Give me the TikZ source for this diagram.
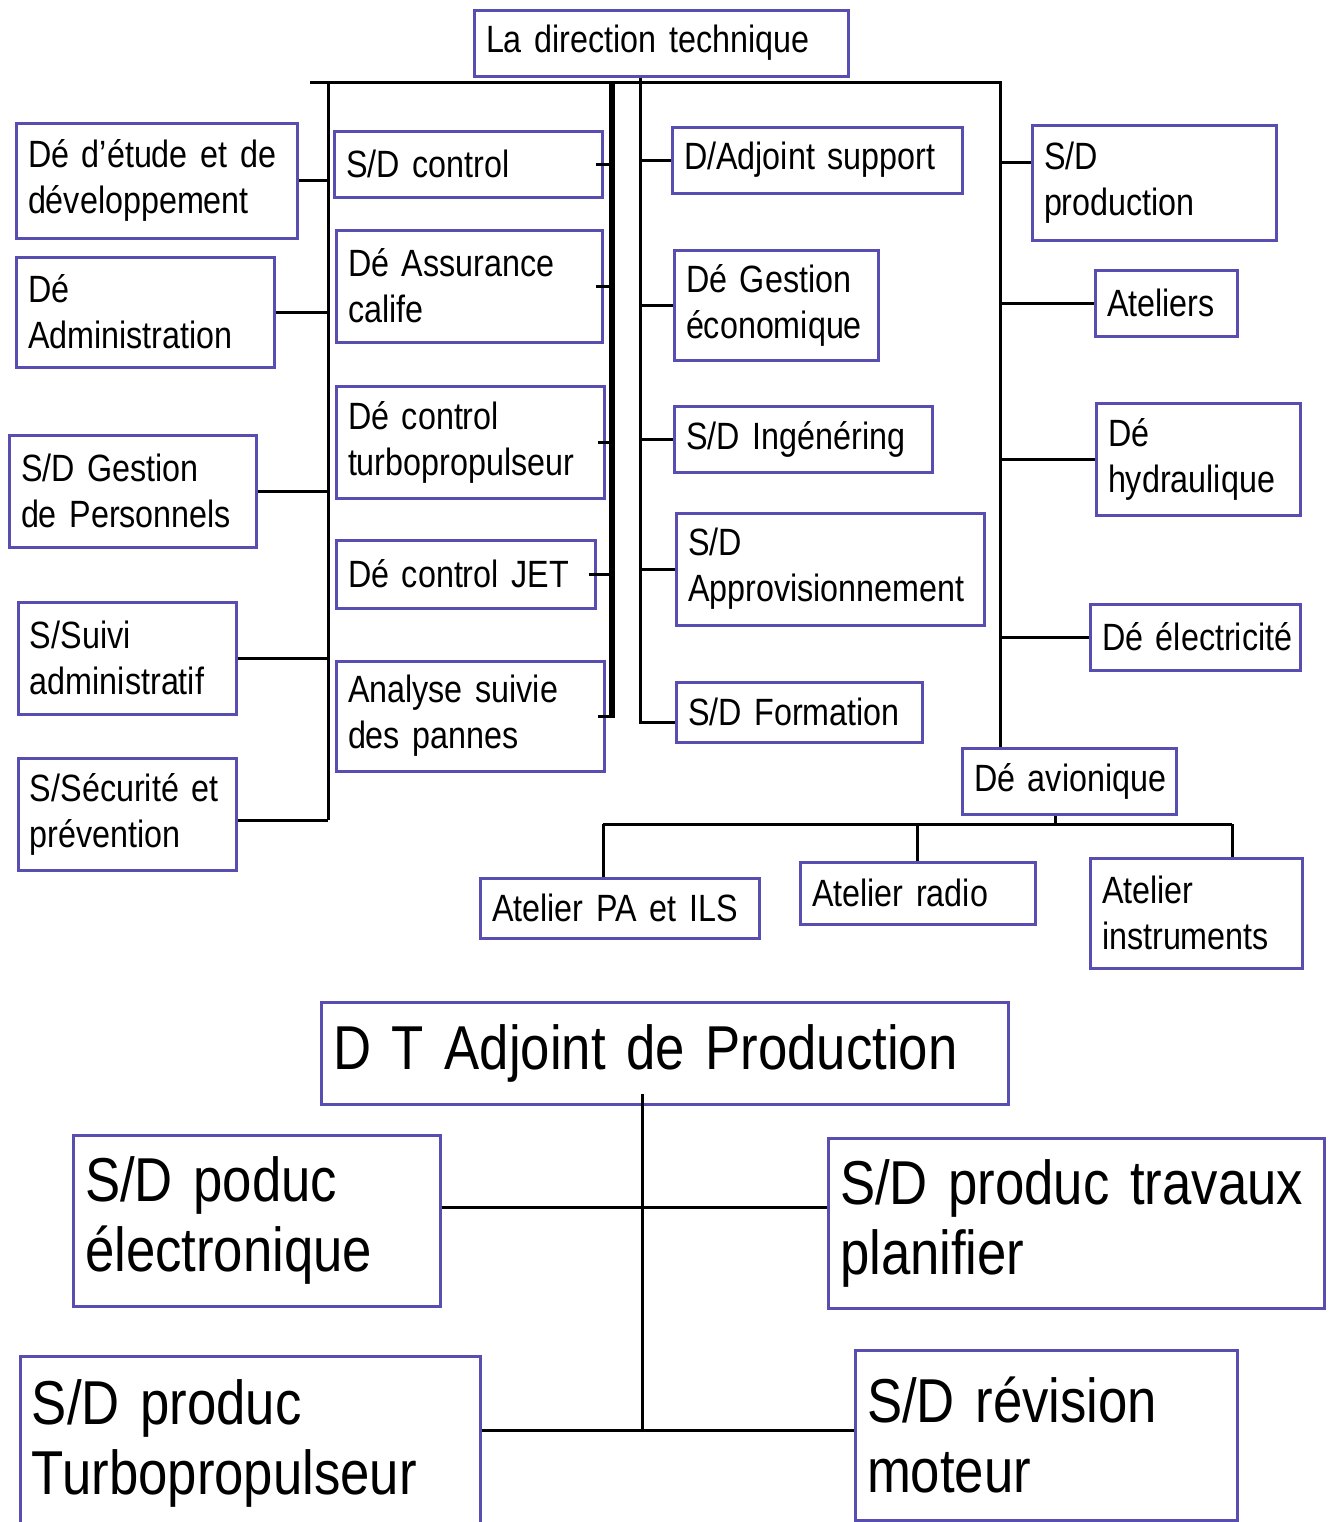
\documentclass[tikz,border=0pt]{standalone}
\usepackage{fontspec}
\setmainfont{Liberation Sans}[FakeStretch=0.85,WordSpace=0.7]
\usetikzlibrary{calc}
\definecolor{bxc}{RGB}{88,78,178}
\newcommand\smallf{\fontsize{19}{23}\selectfont\hyphenpenalty=10000\exhyphenpenalty=10000}
\newcommand\bigf{\fontsize{31}{35}\selectfont\hyphenpenalty=10000\exhyphenpenalty=10000}
\newcommand\mybox[7][]{%
  \pgfmathsetmacro\bw{(#5-#3)*0.5}%
  \pgfmathsetmacro\bh{(#6-#4)*0.5}%
  \pgfmathsetmacro\tw{(#5-#3)*0.5-12}%
  \node[bx,#1,minimum width=\bw pt,minimum height=\bh pt,text width=\tw pt] (#2) at ({(#3+#5)/2},{(#4+#6)/2}) {#7};}
\tikzset{
  bx/.style={draw=bxc, line width=1.5pt, inner xsep=6pt, inner ysep=0pt, align=left, font=\smallf},
  bigbox/.style={font=\bigf},
  conn/.style={draw=black, line width=1.5pt},
  thickbus/.style={draw=black, line width=3pt}
}
\begin{document}
\begin{tikzpicture}[x=0.5pt,y=-0.5pt]
\fill[white] (0,0) rectangle (1330,1522);
\useasboundingbox (0,0) rectangle (1330,1522);

% boxes
\mybox{top}{474}{10}{848}{76}{La~direction~technique}
\mybox{e1}{16}{123}{297}{238}{Dé~d'étude~et~de\\développement}
\mybox{e2}{16}{257}{274}{367}{Dé\\Administration}
\mybox{e3}{9}{435}{256}{547}{S/D~Gestion\\de~Personnels}
\mybox{e4}{18}{602}{236}{714}{S/Suivi\\administratif}
\mybox{e5}{18}{758}{236}{870}{S/Sécurité~et\\prévention}
\mybox{m1}{334}{131}{602}{197}{S/D~control}
\mybox{m2}{336}{230}{602}{342}{Dé~Assurance\\calife}
\mybox{m3}{336}{386}{604}{498}{Dé~control\\turbopropulseur}
\mybox{m4}{336}{540}{595}{608}{Dé~control~JET}
\mybox{m5}{336}{661}{604}{771}{Analyse~suivie\\des~pannes}
\mybox{n1}{672}{127}{962}{193}{D/Adjoint~support}
\mybox{n2}{674}{250}{878}{360}{Dé~Gestion\\économique}
\mybox{n3}{674}{406}{932}{472}{S/D~Ingénéring}
\mybox{n4}{676}{513}{984}{625}{S/D\\Approvisionnement}
\mybox{n5}{676}{682}{922}{742}{S/D~Formation}
\mybox{r1}{1032}{125}{1276}{240}{S/D\\production}
\mybox{r2}{1095}{270}{1237}{336}{Ateliers}
\mybox{r3}{1096}{403}{1300}{515}{Dé\\hydraulique}
\mybox{r4}{1090}{604}{1300}{670}{Dé~électricité}
\mybox{av}{962}{748}{1176}{814}{Dé~avionique}
\mybox{a1}{480}{878}{759}{938}{Atelier~PA~et~ILS}
\mybox{a2}{800}{862}{1035}{924}{Atelier~radio}
\mybox{a3}{1090}{858}{1302}{968}{Atelier\\instruments}
\mybox[bigbox]{dt}{321}{1002}{1008}{1104}{D~T~Adjoint~de~Production}
\mybox[bigbox]{p1}{73}{1135}{440}{1306}{S/D~poduc\\électronique}
\mybox[bigbox]{p2}{828}{1138}{1324}{1308}{S/D~produc~travaux\\planifier}
\mybox[bigbox]{p3}{20}{1356}{480}{1530}{S/D~produc\\Turbopropulseur}
\mybox[bigbox]{p4}{855}{1350}{1237}{1520}{S/D~révision\\moteur}

% bus coordinates
\coordinate (hl) at (310,82);
\coordinate (hr) at (1000,82);
\coordinate (vl) at (328,82);
\coordinate (vlb) at (328,820);
\coordinate (vt) at (612,82);
\coordinate (vtb) at (612,718);
\coordinate (vm) at (640,722);

\draw[conn] (hl) -- (hr) -- (av.north -| hr);
\draw[conn] (vl) -- (vlb);
\draw[thickbus] (vt) -- (vtb);
\draw[conn] (top.south -| vm) -- (vm) -- (vm -| n5.west);

% left column
\foreach \b in {e1,e2,e3,e4}{\draw[conn] (\b.east) -- (\b.east -| vl);}
\draw[conn] (e5.east |- vlb) -- (vlb);

% middle-left ticks
\foreach \b in {m1,m2,m3,m4,m5}{\draw[conn] ([xshift=-4pt]\b.east) -- (\b.east -| vt);}

% middle-right
\foreach \b in {n1,n2,n3,n4}{\draw[conn] (\b.west -| vm) -- (\b.west);}

% right column
\coordinate (r1c) at ($(r1.west)+(0,-20)$);
\draw[conn] (r1c -| hr) -- (r1c);
\foreach \b in {r2,r3,r4}{\draw[conn] (\b.west -| hr) -- (\b.west);}

% avionique
\coordinate (avb) at (1055,824);
\coordinate (b1) at (603,824);
\coordinate (b3) at (1232,824);
\draw[conn] (av.south -| avb) -- (avb);
\draw[conn] (b1) -- (b3);
\draw[conn] (b1) -- (b1 |- a1.north);
\draw[conn] (a2.north |- b1) -- (a2.north);
\draw[conn] (b3) -- (b3 |- a3.north);

% bottom
\coordinate (dtb) at (642,1094);
\coordinate (dtl) at (642,1430);
\coordinate (j1) at (642,1207);
\draw[conn] (dtb) -- (dtl);
\draw[conn] (j1 -| p1.east) -- (j1 -| p2.west);
\draw[conn] (dtl -| p3.east) -- (dtl -| p4.west);
\end{tikzpicture}
\end{document}
